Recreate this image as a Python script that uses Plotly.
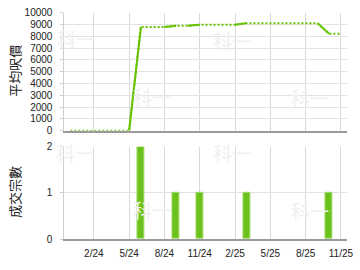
import plotly.graph_objects as go
from plotly.subplots import make_subplots

months = ["12/23", "1/24", "2/24", "3/24", "4/24", "5/24", "6/24", "7/24", "8/24",
          "9/24", "10/24", "11/24", "12/24", "1/25", "2/25", "3/25", "4/25", "5/25",
          "6/25", "7/25", "8/25", "9/25", "10/25", "11/25"]
avg_price = [0, 0, 0, 0, 0, 0, 8790, 8790, 8790, 8900, 8900, 8980, 8980, 8980, 8980,
             9115, 9115, 9115, 9115, 9115, 9115, 9115, 8220, 8220]
deals = [0, 0, 0, 0, 0, 0, 2, 0, 0, 1, 0, 1, 0, 0, 0, 1, 0, 0, 0, 0, 0, 0, 1, 0]
tick_labels = ["2/24", "5/24", "8/24", "11/24", "2/25", "5/25", "8/25", "11/25"]
title_price = "平均呎價"
title_deals = "成交宗數"
watermark = "科一"

LINE = "#66c300"
W = 360
H = 270

fig = make_subplots(rows=2, cols=1)

# dotted carry-forward line for the full series
fig.add_trace(go.Scatter(x=months, y=avg_price, mode="lines",
                         line=dict(color=LINE, width=2, dash="2px,2px"),
                         hoverinfo="skip", showlegend=False), row=1, col=1)

# solid segments into months with transactions
sx, sy = [], []
for i in range(1, len(months)):
    if deals[i] > 0:
        sx += [months[i - 1], months[i], months[i]]
        sy += [avg_price[i - 1], avg_price[i], None]
fig.add_trace(go.Scatter(x=sx, y=sy, mode="lines", connectgaps=False,
                         line=dict(color=LINE, width=2),
                         hoverinfo="skip", showlegend=False), row=1, col=1)

bar_y = [d if d > 0 else None for d in deals]
fig.add_trace(go.Bar(x=months, y=bar_y, width=0.62,
                     marker=dict(color="#6cc21c", line=dict(color="#a6dc70", width=1)),
                     showlegend=False), row=2, col=1)

xl, xr = 65.7 / W, 353.7 / W
font = dict(family="Liberation Sans, Arial, sans-serif", size=10, color="#222")

common_x = dict(type="category", categoryorder="array", categoryarray=months,
                range=[-0.5, len(months) - 0.5], domain=[xl, xr],
                tickvals=tick_labels, showgrid=True, gridcolor="#d9d9d9", gridwidth=1,
                showline=True, linecolor="#9a9a9a", linewidth=2, ticks="", zeroline=False,
                tickfont=font, ticklabelstandoff=4)
fig.update_xaxes(**common_x)
fig.update_xaxes(showticklabels=False, row=1, col=1)
fig.update_xaxes(showticklabels=True, row=2, col=1)

fig.update_yaxes(range=[0, 10000], dtick=1000, tickformat="d",
                 domain=[1 - 130.5 / H, 1 - 7 / H],
                 showgrid=True, gridcolor="#e2e2e2", zeroline=False, showline=True,
                 linecolor="#cfcfcf", linewidth=1, ticks="outside", ticklen=3,
                 tickcolor="#cfcfcf", tickfont=font, ticklabelstandoff=6, row=1, col=1)
fig.update_yaxes(range=[0, 2], dtick=1, tickformat="d",
                 domain=[1 - 244 / H, 1 - 147.3 / H],
                 showgrid=True, gridcolor="#e2e2e2", zeroline=False, showline=True,
                 linecolor="#cfcfcf", linewidth=1, ticks="outside", ticklen=3,
                 tickcolor="#cfcfcf", tickfont=font, ticklabelstandoff=6, row=2, col=1)

annotations = [
    dict(text=title_price, x=15 / W, y=1 - 68 / H, textangle=-90),
    dict(text=title_deals, x=15 / W, y=1 - 195 / H, textangle=-90),
]
for a in annotations:
    a.update(xref="paper", yref="paper", showarrow=False, xanchor="center", yanchor="middle",
             font=dict(family="Noto Sans CJK TC, sans-serif", size=13, color="#222"))

wm_pos = [(77, 34), (155, 95), (237, 36), (316, 96), (76, 153), (155, 213), (237, 153), (316, 214)]
for (px, py) in wm_pos:
    annotations.append(dict(text=watermark, x=px / W, y=1 - py / H, xref="paper", yref="paper",
                            showarrow=False, xanchor="center", yanchor="middle",
                            font=dict(family="Noto Sans CJK TC, sans-serif", size=19, color="#f0f0f0")))

fig.update_layout(width=W, height=H, margin=dict(l=0, r=0, t=0, b=0),
                  paper_bgcolor="white", plot_bgcolor="white", bargap=0,
                  annotations=annotations, showlegend=False)

fig.write_html("out.html", config={"displayModeBar": False})
